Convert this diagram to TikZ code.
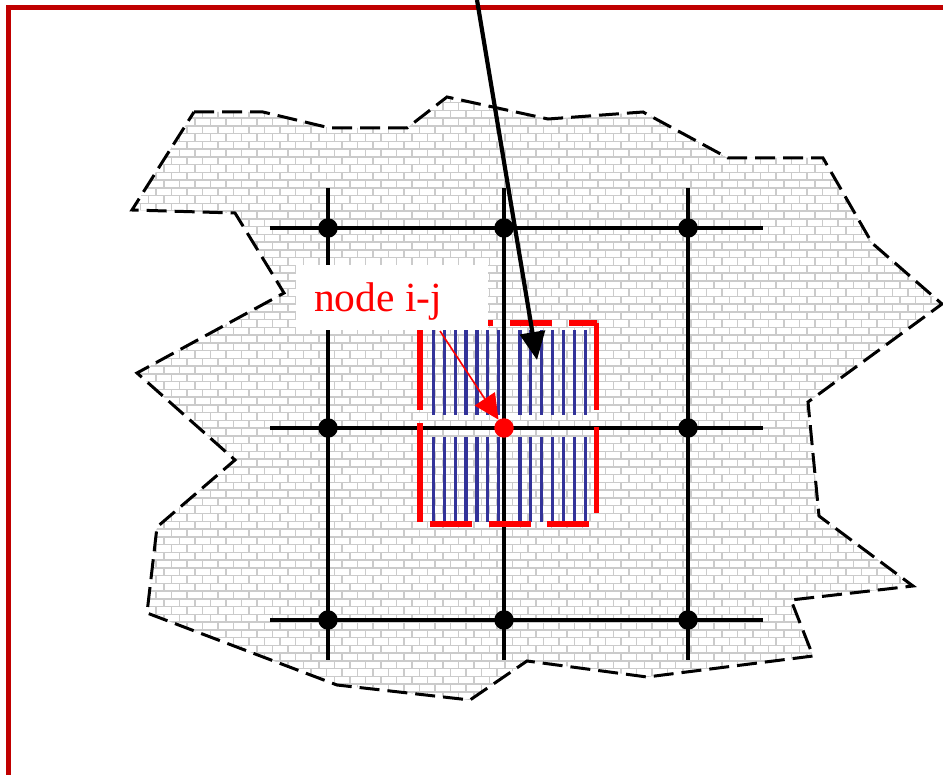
\documentclass[tikz,border=0pt]{standalone}
\usepackage{fontspec}
\setmainfont{Liberation Serif}
\usetikzlibrary{arrows.meta}
\definecolor{framered}{HTML}{C00000}
\definecolor{stripeblue}{HTML}{333399}
\definecolor{mortar}{HTML}{CBCBCB}
\begin{document}
\begin{tikzpicture}[x=1pt,y=-1pt,
  boundary/.style={black, line width=3pt, dash pattern=on 20pt off 8pt},
  gridline/.style={black, line width=3.4pt},
  stripeline/.style={stripeblue, line width=3.2pt},
  redbox/.style={red, line width=5.4pt},
  dot/.style={circle, fill=black, minimum size=19.5pt, inner sep=0pt},
  reddot/.style={circle, fill=red, minimum size=19.5pt, inner sep=0pt},
  mortarh/.style={mortar, line width=1.5pt},
  mortarv/.style={mortar, line width=1.5pt, dash pattern=on 7.75pt off 7.75pt},
  framestyle/.style={framered, line width=5pt}]
\useasboundingbox (0,0) rectangle (943,775);

% frame
\coordinate (fbl) at (8,775);
\coordinate (ftl) at (8,8);
\coordinate (ftr) at (943,8);
\draw[framestyle] (fbl) -- (ftl) -- (ftr);

% brick-filled region
\def\region{(194,112) -- (263,112) -- (330,128) -- (407,128) -- (447,97) -- (548,119) -- (643,112) -- (728,158) -- (823,158) -- (872,243) -- (942,304) -- (808,402) -- (819,516) -- (913,586) -- (791,600) -- (813,656) -- (647,677) -- (527,661) -- (470,700) -- (337,685) -- (147,613) -- (157,527) -- (235,460) -- (137,373) -- (284,293) -- (235,213) -- (132,210) -- cycle}
\begin{scope}
  \clip \region;
  \fill[white] (120,90) rectangle (950,710);
  \foreach \k in {0,...,80} {
    \draw[mortarh] (120,{95+\k*7.75}) -- (950,{95+\k*7.75});
  }
  \foreach \k in {0,...,53} {
    \draw[mortarv] ({125+\k*15.5},95) -- ({125+\k*15.5},715);
    \draw[mortarv, dash phase=7.75pt] ({132.75+\k*15.5},95) -- ({132.75+\k*15.5},715);
  }
\end{scope}
\draw[boundary] \region;

% grid lines
\coordinate (h1w) at (270,228); \coordinate (h1e) at (763,228);
\coordinate (h2w) at (270,428); \coordinate (h2e) at (763,428);
\coordinate (h3w) at (270,620); \coordinate (h3e) at (763,620);
\coordinate (v1n) at (328,188); \coordinate (v1s) at (328,660);
\coordinate (v2n) at (504,188); \coordinate (v2s) at (504,660);
\coordinate (v3n) at (688,188); \coordinate (v3s) at (688,660);
\draw[gridline] (h1w) -- (h1e);
\draw[gridline] (h2w) -- (h2e);
\draw[gridline] (h3w) -- (h3e);
\draw[gridline] (v1n) -- (v1s);
\draw[gridline] (v2n) -- (v2s);
\draw[gridline] (v3n) -- (v3s);

% blue stripes
\foreach \k in {0,...,6} {
  \draw[stripeline] ({433.3+\k*10.9},330) -- ({433.3+\k*10.9},415);
  \draw[stripeline] ({433.3+\k*10.9},437) -- ({433.3+\k*10.9},522);
  \draw[stripeline] ({520+\k*10.85},330) -- ({520+\k*10.85},415);
  \draw[stripeline] ({520+\k*10.85},437) -- ({520+\k*10.85},522);
}

% red dashed cell box
\coordinate (rtl) at (420,323);
\coordinate (rtr) at (596.5,323);
\coordinate (rbr) at (596.5,524);
\coordinate (rbl) at (420,524);
\draw[redbox, dash pattern=on 42pt off 16.5pt, dash phase=48.5pt] (rbl) -- (rbr);
\draw[redbox, dash pattern=on 87pt off 17pt on 86pt off 20pt] (rtr) -- (rbr);
\draw[redbox, dash pattern=on 99pt off 13pt, dash phase=110pt] (rbl) -- (rtl);
\draw[redbox, dash pattern=on 41.5pt off 17pt, dash phase=13.5pt] (rtr) -- (rtl);

% grid nodes
\node[dot] (a1) at (328,228) {};
\node[dot] (b1) at (504,228) {};
\node[dot] (c1) at (688,228) {};
\node[dot] (a2) at (328,428) {};
\node[reddot] (b2) at (504,428) {};
\node[dot] (c2) at (688,428) {};
\node[dot] (a3) at (328,620) {};
\node[dot] (b3) at (504,620) {};
\node[dot] (c3) at (688,620) {};

% label
\node[fill=white, minimum width=192pt, minimum height=65pt, inner sep=0pt] (lblbox) at (392,297.5) {};
\node[anchor=base west, text=red, inner sep=0pt, font=\fontsize{41.5}{50}\selectfont] (lbl) at (314,311.5) {node i-j};
\coordinate (lblfoot) at (440,331);
\draw[red, line width=1.6pt, -{Triangle[length=25pt,width=24pt]}] (lblfoot) -- (b2);

% black arrow
\coordinate (atop) at (477,0);
\coordinate (atip) at (537,360);
\draw[black, line width=4.2pt, -{Triangle[length=28pt,width=25pt]}] (atop) -- (atip);
\end{tikzpicture}
\end{document}
